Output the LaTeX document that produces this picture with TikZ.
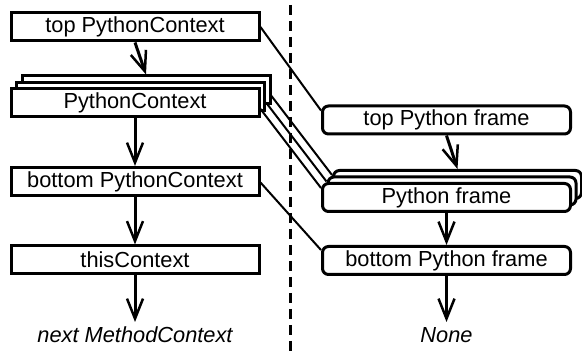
\documentclass[tikz,border=0pt]{standalone}
\usepackage{fontspec}
\setmainfont{Liberation Sans}
\usetikzlibrary{arrows.meta,calc}
\begin{document}
\begin{tikzpicture}[x=1pt,y=1pt,
  ctx/.style={draw, line width=3pt, fill=white, minimum width=248pt, minimum height=28pt, inner sep=0pt, font=\fontsize{21.8}{24}\selectfont},
  frm/.style={ctx, rounded corners=6pt},
  flow/.style={line width=3pt, -{Straight Barb[length=20pt,width=16pt,line width=2.5pt]}},
  link/.style={line width=2pt},
  lbl/.style={font=\fontsize{21.8}{24}\selectfont\itshape, anchor=base, inner sep=0pt}
]
\useasboundingbox (0,0) rectangle (582,351);
% left column
\node[ctx] (ctxtop) at (135,324) {top PythonContext};
\node[ctx] (ctxback) at (146,261) {};
\node[ctx] (ctxmid) at (140.5,254.5) {};
\node[ctx] (ctxfront) at (135,248) {PythonContext};
\node[ctx] (ctxbot) at (135,169.5) {bottom PythonContext};
\node[ctx] (ctxthis) at (135,91) {thisContext};
\coordinate (ctxend) at (135,29);
\node[lbl] (ctxnext) at (135,8) {next MethodContext};
% right column
\node[frm] (frtop) at (446.5,231) {top Python frame};
\node[frm] (frback) at (457.5,166.5) {};
\node[frm] (frmid) at (452,160) {};
\node[frm] (frfront) at (446.5,153.5) {Python frame};
\node[frm] (frbot) at (446.5,90.5) {bottom Python frame};
\coordinate (frend) at (446.5,29);
\node[lbl] (frnone) at (446.5,8) {None};
% divider
\coordinate (dtop) at (290,346);
\coordinate (dbot) at (290,0);
\draw[line width=3pt, dash pattern=on 10pt off 6pt] (dtop) -- (dbot);
% links
\draw[link] (ctxtop.east) -- ($(frtop.north west)+(0,-6)$);
\draw[link] ($(ctxback.east)+(0,-6)$) -- ($(frback.north west)+(0,-6)$);
\draw[link] ($(ctxmid.east)+(0,-6)$) -- ($(frmid.north west)+(0,-6)$);
\draw[link] ($(ctxfront.east)+(0,-6)$) -- ($(frfront.north west)+(0,-6)$);
\draw[link] ($(ctxbot.east)+(0,-1)$) -- ($(frbot.north west)+(0,-5)$);
% flow arrows
\draw[flow] (ctxtop.south) -- (ctxback.north);
\draw[flow] (ctxfront.south) -- (ctxbot.north);
\draw[flow] (ctxbot.south) -- (ctxthis.north);
\draw[flow] (ctxthis.south) -- (ctxend);
\draw[flow] (frtop.south) -- (frback.north);
\draw[flow] (frfront.south) -- (frbot.north);
\draw[flow] (frbot.south) -- (frend);
\end{tikzpicture}
\end{document}
